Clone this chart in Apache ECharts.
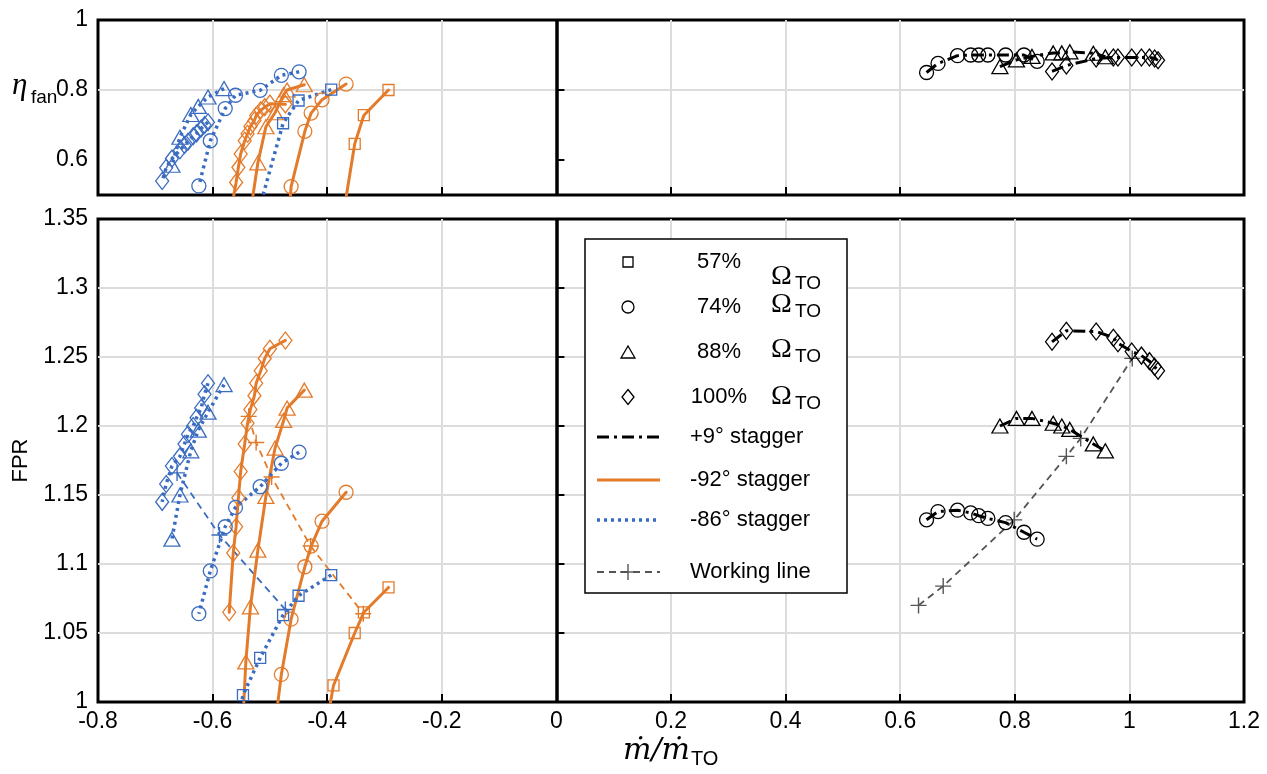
<!DOCTYPE html>
<html><head><meta charset="utf-8">
<script src="https://cdn.jsdelivr.net/npm/echarts@6/dist/echarts.min.js"></script>
<style>html,body{margin:0;padding:0;background:#fff}#c{width:1267px;height:774px}</style>
</head><body><div id="c"></div>
<script>
// ---------------- data ----------------
const speedLabels = ['57%', '74%', '88%', '100%'];
const staggerLabels = ['+9\u00b0 stagger', '-92\u00b0 stagger', '-86\u00b0 stagger', 'Working line'];
const etaTicks = [0.6, 0.8, 1];

// -92 deg stagger (orange)
const m92_57 = [-0.293, -0.336, -0.352, -0.389, -0.405];
const fpr92_57 = [1.083, 1.065, 1.050, 1.012, 0.975];
const eta92_57 = [0.800, 0.728, 0.646, 0.270, 0.100];

const m92_74 = [-0.367, -0.409, -0.428, -0.439, -0.463, -0.480, -0.492];
const fpr92_74 = [1.152, 1.131, 1.113, 1.098, 1.060, 1.020, 0.980];
const eta92_74 = [0.817, 0.772, 0.734, 0.682, 0.524, 0.150, 0.050];

const m92_88 = [-0.440, -0.470, -0.476, -0.491, -0.507, -0.521, -0.534, -0.542, -0.548];
const fpr92_88 = [1.226, 1.213, 1.204, 1.184, 1.149, 1.110, 1.069, 1.029, 0.980];
const eta92_88 = [0.815, 0.800, 0.787, 0.735, 0.695, 0.592, 0.450, 0.300, 0.200];

const m92_100 = [-0.473, -0.500, -0.509, -0.516, -0.524, -0.527, -0.534, -0.539, -0.544, -0.551, -0.555, -0.559, -0.564, -0.571];
const fpr92_100 = [1.262, 1.256, 1.249, 1.240, 1.231, 1.222, 1.212, 1.202, 1.187, 1.167, 1.148, 1.127, 1.108, 1.065];
const eta92_100 = [0.759, 0.761, 0.751, 0.742, 0.727, 0.713, 0.696, 0.675, 0.655, 0.617, 0.579, 0.536, 0.490, 0.420];

// -86 deg stagger (blue)
const m86_57 = [-0.393, -0.450, -0.477, -0.517, -0.547, -0.565];
const fpr86_57 = [1.092, 1.077, 1.063, 1.032, 1.005, 0.970];
const eta86_57 = [0.801, 0.770, 0.705, 0.470, 0.200, 0.100];

const m86_74 = [-0.449, -0.480, -0.517, -0.560, -0.578, -0.604, -0.624];
const fpr86_74 = [1.181, 1.173, 1.156, 1.141, 1.127, 1.095, 1.064];
const eta86_74 = [0.852, 0.842, 0.799, 0.785, 0.747, 0.655, 0.526];

const m86_88 = [-0.580, -0.608, -0.625, -0.638, -0.657, -0.671];
const fpr86_88 = [1.230, 1.210, 1.197, 1.182, 1.150, 1.118];
const eta86_88 = [0.804, 0.780, 0.753, 0.730, 0.665, 0.585];

const m86_100 = [-0.608, -0.614, -0.620, -0.628, -0.634, -0.643, -0.649, -0.657, -0.671, -0.681, -0.688];
const fpr86_100 = [1.231, 1.223, 1.213, 1.206, 1.200, 1.194, 1.187, 1.178, 1.171, 1.158, 1.145];
const eta86_100 = [0.708, 0.700, 0.690, 0.676, 0.668, 0.652, 0.643, 0.628, 0.604, 0.578, 0.540];

// +9 deg stagger (black)
const m9_74 = [0.646, 0.666, 0.700, 0.723, 0.737, 0.753, 0.784, 0.816, 0.839];
const fpr9_74 = [1.132, 1.138, 1.139, 1.137, 1.135, 1.133, 1.130, 1.123, 1.118];
const eta9_74 = [0.850, 0.876, 0.898, 0.900, 0.900, 0.900, 0.900, 0.900, 0.882];

const m9_88 = [0.774, 0.803, 0.830, 0.867, 0.882, 0.896, 0.937, 0.958];
const fpr9_88 = [1.200, 1.2055, 1.2055, 1.202, 1.200, 1.1975, 1.187, 1.182];
const eta9_88 = [0.867, 0.886, 0.896, 0.906, 0.906, 0.909, 0.905, 0.895];

const m9_100 = [0.865, 0.890, 0.942, 0.972, 0.980, 1.004, 1.021, 1.035, 1.044, 1.050];
const fpr9_100 = [1.261, 1.269, 1.2685, 1.264, 1.260, 1.254, 1.251, 1.247, 1.243, 1.240];
const eta9_100 = [0.853, 0.870, 0.890, 0.893, 0.893, 0.893, 0.893, 0.893, 0.890, 0.885];

// working lines
const wl9_m = [0.632, 0.675, 0.799, 0.890, 0.915, 1.005];
const wl9_fpr = [1.070, 1.084, 1.132, 1.178, 1.191, 1.249];
const wl92_m = [-0.537, -0.524, -0.497, -0.429, -0.337];
const wl92_fpr = [1.207, 1.188, 1.163, 1.113, 1.064];
const wl86_m = [-0.662, -0.588, -0.473];
const wl86_fpr = [1.166, 1.121, 1.067];

// ---------------- styles ----------------
const ORANGE = '#E37B2B', BLUE = '#3A6CC0', BLACK = '#000', GRAY = '#555';
const SANS = '"Liberation Sans", Arial, sans-serif';
const SERIF = '"Liberation Serif", "DejaVu Serif", serif';
const SYM = {
  '57%': {symbol: 'rect', size: 11},
  '74%': {symbol: 'circle', size: 14},
  '88%': {symbol: 'triangle', size: [16, 14]},
  '100%': {symbol: 'diamond', size: [13, 17]}
};
const STAG = {
  '9': {color: BLACK, width: 3, dash: [12, 5, 3, 5], cap: 'butt'},
  '92': {color: ORANGE, width: 3, dash: 'solid', cap: 'round'},
  '86': {color: BLUE, width: 3.5, dash: [3, 4], cap: 'butt'}
};
const PLUS = 'path://M0,5L10,5M5,0L5,10';

function zip(a, b) { return a.map((v, i) => [v, b[i]]); }
function mk(grid, stag, speed, xs, ys) {
  const s = STAG[stag], m = SYM[speed];
  return {
    type: 'line', name: stag + '_' + speed + '_' + grid,
    xAxisIndex: grid, yAxisIndex: grid,
    data: zip(xs, ys),
    symbol: m.symbol, symbolSize: m.size, showSymbol: true,
    lineStyle: {color: s.color, width: s.width, type: s.dash, cap: s.cap},
    itemStyle: {color: 'rgba(255,255,255,0)', borderColor: s.color, borderWidth: 1.3},
    clip: true, silent: true, animation: false, z: 3
  };
}
function wl(xs, ys, color) {
  return {
    type: 'line', xAxisIndex: 1, yAxisIndex: 1,
    data: zip(xs, ys),
    symbol: PLUS, symbolSize: 16, showSymbol: true,
    lineStyle: {color: color, width: 1.8, type: [7, 5], cap: 'butt'},
    itemStyle: {color: 'rgba(255,255,255,0)', borderColor: color, borderWidth: 1.4},
    clip: true, silent: true, animation: false, z: 2
  };
}

const series = [];
const groups = [
  ['92', '57%', m92_57, fpr92_57, eta92_57], ['92', '74%', m92_74, fpr92_74, eta92_74],
  ['92', '88%', m92_88, fpr92_88, eta92_88], ['92', '100%', m92_100, fpr92_100, eta92_100],
  ['86', '57%', m86_57, fpr86_57, eta86_57], ['86', '74%', m86_74, fpr86_74, eta86_74],
  ['86', '88%', m86_88, fpr86_88, eta86_88], ['86', '100%', m86_100, fpr86_100, eta86_100],
  ['9', '74%', m9_74, fpr9_74, eta9_74], ['9', '88%', m9_88, fpr9_88, eta9_88],
  ['9', '100%', m9_100, fpr9_100, eta9_100]
];
groups.forEach(gg => {
  series.push(mk(0, gg[0], gg[1], gg[2], gg[4]));
  series.push(mk(1, gg[0], gg[1], gg[2], gg[3]));
});
series.push(wl(wl9_m, wl9_fpr, GRAY));
series.push(wl(wl92_m, wl92_fpr, ORANGE));
series.push(wl(wl86_m, wl86_fpr, BLUE));
// x = 0 reference line in both panels (attached to first series of each grid)
const zeroLine = {silent: true, symbol: 'none', label: {show: false}, animation: false,
  lineStyle: {color: '#000', width: 3.5, type: 'solid'}, data: [{xAxis: 0}]};
series[0].markLine = zeroLine;
series[1].markLine = zeroLine;

const tickStyle = {show: true, inside: true, length: 8, lineStyle: {color: '#000', width: 2}};
const splitStyle = {show: true, showMinLine: false, showMaxLine: false, lineStyle: {color: '#dcdcdc', width: 2}};
const labelStyle = {color: '#000', fontSize: 23, fontFamily: SANS};

// ---------------- legend (graphic) ----------------
const g = [];
const LX = 585, LY = 239, LW = 262, LH = 354;
g.push({type: 'rect', shape: {x: LX, y: LY, width: LW, height: LH},
  style: {fill: '#fff', stroke: '#000', lineWidth: 1.5}, z: 100});
const rowsY = [262, 307, 352, 397, 437, 480, 520, 572];
const omegaY = [277, 305, 350, 397];
const symX = 628;
const mStyle = {fill: 'none', stroke: '#000', lineWidth: 1.3};
g.push({type: 'rect', shape: {x: symX - 5, y: rowsY[0] - 5, width: 10, height: 10}, style: mStyle, z: 101});
g.push({type: 'circle', shape: {cx: symX, cy: rowsY[1], r: 6}, style: mStyle, z: 101});
g.push({type: 'polygon', shape: {points: [[symX - 7, rowsY[2] + 6], [symX + 7, rowsY[2] + 6], [symX, rowsY[2] - 6]]}, style: mStyle, z: 101});
g.push({type: 'polygon', shape: {points: [[symX, rowsY[3] - 7.5], [symX + 6, rowsY[3]], [symX, rowsY[3] + 7.5], [symX - 6, rowsY[3]]]}, style: mStyle, z: 101});
speedLabels.forEach((s, i) => {
  g.push({type: 'text', x: 719, y: rowsY[i], z: 101,
    style: {text: s, fontSize: 22, fontFamily: SANS, fill: '#000', align: 'center', verticalAlign: 'middle'}});
  g.push({type: 'text', x: 771, y: omegaY[i], z: 101,
    style: {text: '\u03a9', fontSize: 28, fontFamily: SERIF, fill: '#000', align: 'left', verticalAlign: 'middle'}});
  g.push({type: 'text', x: 795, y: omegaY[i] + 7, z: 101,
    style: {text: 'TO', fontSize: 19, fontFamily: SANS, fill: '#000', align: 'left', verticalAlign: 'middle'}});
});
const lineStyles = [STAG['9'], STAG['92'], STAG['86'], {color: GRAY, width: 1.8, dash: [7, 5]}];
lineStyles.forEach((s, i) => {
  const y = rowsY[4 + i];
  const st = {stroke: s.color, lineWidth: s.width, lineCap: 'butt'};
  if (s.dash !== 'solid') st.lineDash = s.dash;
  g.push({type: 'line', shape: {x1: 597, y1: y, x2: 660, y2: y}, z: 101, style: st});
  g.push({type: 'text', x: 690, y: y, z: 101,
    style: {text: staggerLabels[i], fontSize: 22, fontFamily: SANS, fill: '#000', align: 'left', verticalAlign: 'middle'}});
});
g.push({type: 'line', shape: {x1: 620, y1: 572, x2: 636, y2: 572}, style: {stroke: GRAY, lineWidth: 1.4}, z: 102});
g.push({type: 'line', shape: {x1: 628, y1: 564, x2: 628, y2: 580}, style: {stroke: GRAY, lineWidth: 1.4}, z: 102});

// axis titles
g.push({type: 'text', x: 12, y: 101, style: {text: '\u03b7', fontSize: 31, fontFamily: SERIF, fontStyle: 'italic', fill: '#000', align: 'left', verticalAlign: 'bottom'}});
g.push({type: 'text', x: 31, y: 107, style: {text: 'fan', fontSize: 19, fontFamily: SANS, fill: '#000', align: 'left', verticalAlign: 'bottom'}});
g.push({type: 'text', x: 690, y: 751, style: {text: '\u1e41/\u1e41', fontSize: 30, fontFamily: '"DejaVu Serif", serif', fontStyle: 'italic', fill: '#000', align: 'right', verticalAlign: 'middle'}});
g.push({type: 'text', x: 691, y: 759, style: {text: 'TO', fontSize: 20, fontFamily: SANS, fill: '#000', align: 'left', verticalAlign: 'middle'}});

const option = {
  backgroundColor: '#fff',
  animation: false,
  grid: [
    {left: 98, right: 23, top: 20, height: 175, show: true, borderColor: '#000', borderWidth: 3, backgroundColor: 'transparent'},
    {left: 98, right: 23, top: 219, bottom: 72, show: true, borderColor: '#000', borderWidth: 3, backgroundColor: 'transparent'}
  ],
  xAxis: [
    {type: 'value', gridIndex: 0, min: -0.8, max: 1.2, interval: 0.2,
      axisLine: {show: false}, axisTick: tickStyle, axisLabel: {show: false}, splitLine: splitStyle},
    {type: 'value', gridIndex: 1, min: -0.8, max: 1.2, interval: 0.2,
      axisLine: {show: false}, axisTick: tickStyle, axisLabel: Object.assign({margin: 8}, labelStyle), splitLine: splitStyle}
  ],
  yAxis: [
    {type: 'value', gridIndex: 0, min: 0.5, max: 1,
      axisLine: {show: false},
      axisTick: Object.assign({customValues: etaTicks}, tickStyle),
      axisLabel: Object.assign({margin: 10, customValues: etaTicks}, labelStyle),
      splitLine: splitStyle},
    {type: 'value', gridIndex: 1, min: 1, max: 1.35, interval: 0.05,
      axisLine: {show: false}, axisTick: tickStyle,
      axisLabel: Object.assign({margin: 10}, labelStyle), splitLine: splitStyle,
      name: 'FPR', nameLocation: 'middle', nameGap: 66, nameRotate: 90,
      nameTextStyle: {color: '#000', fontSize: 22, fontFamily: SANS}}
  ],
  graphic: {elements: g},
  series: series
};
const chart = echarts.init(document.getElementById('c'), null, {renderer: 'canvas'});
chart.setOption(option);
</script></body></html>
